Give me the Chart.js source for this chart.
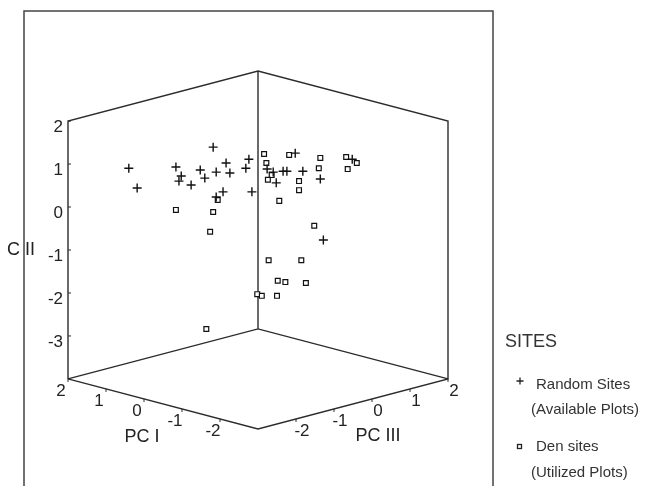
<!DOCTYPE html>
<html>
<head>
<meta charset="utf-8">
<script src="https://cdn.jsdelivr.net/npm/chart.js@4/dist/chart.umd.min.js"></script>
<style>
  body { margin: 0; background: #fff; }
  #wrap { width: 656px; height: 486px; position: relative; }
</style>
</head>
<body>
<div id="wrap"><canvas id="scatter3d"></canvas></div>
<script>
// --- axis ranges and tick labels ---
const pc1Range = [-3, 2];
const c2Range = [-4, 2];
const pc3Range = [-3, 2];
const pc1Ticks = [2, 1, 0, -1, -2];
const pc3Ticks = [-2, -1, 0, 1, 2];
const c2Ticks = [2, 1, 0, -1, -2, -3];

// --- Random Sites (Available Plots): PC I, C II, PC III ---
const randomPC1 = [1.70, 1.59, 1.08, 1.01, 1.04, 0.88, 0.76, 0.70, 0.59, 0.55, 0.42, 0.37, 0.46, 0.55,
                   0.16, 0.12, 0.08, -0.12, -0.20, -0.24, -0.33, -0.38, -0.49, -0.59, -0.82, -1.24, -0.86];
const randomCII = [0.67, 0.21, 0.70, 0.49, 0.37, 0.28, 0.63, 0.44, 1.16, 0.58, 0.79, 0.56, 0.12, 0.00,
                   0.67, 0.88, 0.12, 0.65, 0.58, 0.33, 0.60, 0.60, 1.02, 0.60, 0.42, 0.88, -1.00];
const randomPC3 = [-1.70, -1.59, -1.08, -1.01, -1.04, -0.88, -0.76, -0.70, -0.59, -0.55, -0.42, -0.37, -0.46, -0.55,
                   -0.16, -0.12, -0.08, 0.12, 0.20, 0.24, 0.33, 0.38, 0.49, 0.59, 0.82, 1.24, 0.86];

// --- Den sites (Utilized Plots): PC I, C II, PC III ---
const denPC1 = [1.08, 0.59, 0.63, 0.53, -0.08, -0.11, -0.18, -0.13, -0.41, -0.82, -0.80, -0.54, -0.54, -0.28,
                -1.16, -1.30, -1.18, -0.74, -0.14, -0.57, -0.26, -0.36, -0.63, 0.01, -0.05, -0.25, 0.68];
const denCII = [-0.30, -0.35, -0.81, -0.07, 1.00, 0.79, 0.51, 0.40, 0.98, 0.91, 0.67, 0.37, 0.16, -0.09,
                0.93, 0.79, 0.65, -0.67, -1.47, -1.47, -1.95, -1.98, -2.00, -2.26, -2.30, -2.30, -3.07];
const denPC3 = [-1.08, -0.59, -0.63, -0.53, 0.08, 0.11, 0.18, 0.13, 0.41, 0.82, 0.80, 0.54, 0.54, 0.28,
                1.16, 1.30, 1.18, 0.74, 0.14, 0.57, 0.26, 0.36, 0.63, -0.01, 0.05, 0.25, -0.68];

// vista: PC I baja hacia la izquierda, PC III hacia la derecha
const ELEV = 0.233;
function project(a, b, c) {
  return { x: c - a, y: b + ELEV * (a + c) };
}

function toPoints(p1, p2, p3) {
  return p1.map((a, i) => project(a, p2[i], p3[i]));
}

// esquinas de la caja
const A0 = pc1Range[0], A1 = pc1Range[1];
const B0 = c2Range[0], B1 = c2Range[1];
const C0 = pc3Range[0], C1 = pc3Range[1];
const leftBottom = project(A1, B0, C0), leftTop = project(A1, B1, C0);
const backBottom = project(A1, B0, C1), backTop = project(A1, B1, C1);
const rightBottom = project(A0, B0, C1), rightTop = project(A0, B1, C1);
const front = project(A0, B0, C0);

const FONT = "'Liberation Sans', Arial, sans-serif";
const INK = '#2b2b2b';

function frameSet(pts) {
  return {
    data: pts, showLine: true, pointRadius: 0, borderColor: INK, borderWidth: 1.4,
    fill: false, tension: 0, order: 10, clip: false
  };
}

const labelsPlugin = {
  id: 'labels3d',
  beforeDraw(chart) {
    const ctx = chart.ctx;
    ctx.save();
    ctx.strokeStyle = '#444';
    ctx.lineWidth = 1.5;
    ctx.beginPath();
    ctx.moveTo(24, 486);
    ctx.lineTo(24, 11);
    ctx.lineTo(493, 11);
    ctx.lineTo(493, 486);
    ctx.stroke();
    ctx.restore();
  },
  afterDatasetsDraw(chart) {
    const ctx = chart.ctx;
    const sx = chart.scales.x, sy = chart.scales.y;
    const px = p => ({ x: sx.getPixelForValue(p.x), y: sy.getPixelForValue(p.y) });
    ctx.save();
    ctx.fillStyle = '#222';
    ctx.strokeStyle = INK;
    ctx.lineWidth = 1;
    ctx.font = '17px ' + FONT;
    ctx.textBaseline = 'middle';

    // PC I
    ctx.textAlign = 'center';
    pc1Ticks.forEach(t => {
      const p = px(project(t, B0, C0));
      ctx.beginPath(); ctx.moveTo(p.x, p.y); ctx.lineTo(p.x, p.y + 3); ctx.stroke();
      ctx.fillText(String(t), p.x - 7, p.y + 12);
    });
    // PC III
    pc3Ticks.forEach(t => {
      const p = px(project(A0, B0, t));
      ctx.beginPath(); ctx.moveTo(p.x, p.y); ctx.lineTo(p.x, p.y + 3); ctx.stroke();
      ctx.fillText(String(t), p.x + 6, p.y + 12);
    });
    // C II
    ctx.textAlign = 'right';
    c2Ticks.forEach(t => {
      const p = px(project(A1, t, C0));
      ctx.beginPath(); ctx.moveTo(p.x, p.y); ctx.lineTo(p.x + 3, p.y); ctx.stroke();
      ctx.fillText(String(t), p.x - 5, p.y + 6);
    });

    // titulos de ejes
    ctx.font = '18px ' + FONT;
    ctx.textAlign = 'center';
    const t1 = px(project(0, B0, C0));
    ctx.fillText('PC I', t1.x - 2, t1.y + 38);
    const t3 = px(project(A0, B0, 0));
    ctx.fillText('PC III', t3.x + 6, t3.y + 37);
    const t2 = px(project(A1, -1, C0));
    ctx.textAlign = 'left';
    ctx.fillText('C II', 7, t2.y);

    // leyenda
    ctx.fillStyle = '#333';
    ctx.font = '18px ' + FONT;
    ctx.fillText('SITES', 505, 342);
    ctx.font = '15px ' + FONT;
    ctx.fillText('Random Sites', 536, 385);
    ctx.fillText('(Available Plots)', 531, 410);
    ctx.fillText('Den sites', 536, 447);
    ctx.fillText('(Utilized Plots)', 531, 473);
    ctx.strokeStyle = '#222';
    ctx.lineWidth = 1.3;
    ctx.beginPath();
    ctx.moveTo(516.5, 381); ctx.lineTo(523.5, 381);
    ctx.moveTo(520, 377.5); ctx.lineTo(520, 384.5);
    ctx.stroke();
    ctx.strokeRect(517.5, 444.5, 4, 4);
    ctx.restore();
  }
};

const chart = new Chart(document.getElementById('scatter3d'), {
  type: 'scatter',
  data: {
    datasets: [
      {
        label: 'Random Sites',
        data: toPoints(randomPC1, randomCII, randomPC3),
        pointStyle: 'cross', pointRadius: 4.5, borderColor: '#111', borderWidth: 1.4,
        order: 0, clip: false
      },
      {
        label: 'Den sites',
        data: toPoints(denPC1, denCII, denPC3),
        pointStyle: 'rect', pointRadius: 3.4, borderColor: '#111', backgroundColor: '#fff', borderWidth: 1.2,
        order: 1, clip: false
      },
      frameSet([leftBottom, leftTop, backTop, rightTop, rightBottom, front, leftBottom]),
      frameSet([backTop, backBottom]),
      frameSet([leftBottom, backBottom, rightBottom])
    ]
  },
  options: {
    responsive: true,
    maintainAspectRatio: false,
    animation: false,
    layout: { padding: { left: 68, right: 208, top: 71, bottom: 57 } },
    plugins: { legend: { display: false }, tooltip: { enabled: false } },
    scales: {
      x: { display: false, min: leftTop.x, max: rightTop.x },
      y: { display: false, min: front.y, max: backTop.y }
    }
  },
  plugins: [labelsPlugin]
});
</script>
</body>
</html>
